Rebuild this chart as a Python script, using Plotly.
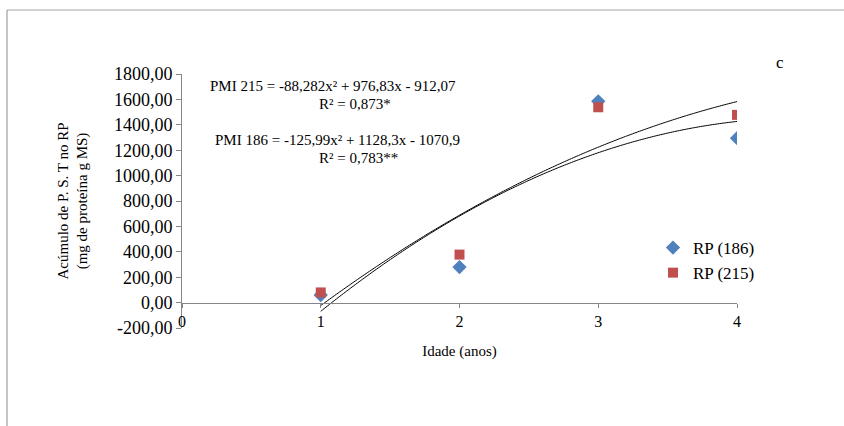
import numpy as np
import plotly.graph_objects as go

# ---- data ----
idade = [1, 2, 3, 4]
rp186 = [60, 280, 1585, 1295]
rp215 = [80, 378, 1538, 1478]

# trendline coefficients as printed on the chart (a, b, c for a*x^2 + b*x + c)
coef215 = [-88.282, 976.83, -912.07]
coef186 = [-125.99, 1128.3, -1070.9]

eq215 = "PMI 215 = -88,282x² + 976,83x - 912,07"
r215 = "R² = 0,873*"
eq186 = "PMI 186 = -125,99x² + 1128,3x - 1070,9"
r186 = "R² = 0,783**"

ytick_vals = [-200, 0, 200, 400, 600, 800, 1000, 1200, 1400, 1600, 1800]
ytick_text = ["-200,00", "0,00", "200,00", "400,00", "600,00", "800,00",
              "1000,00", "1200,00", "1400,00", "1600,00", "1800,00"]
xtick_vals = [0, 1, 2, 3, 4]
xtick_text = ["0", "1", "2", "3", "4"]

FONT = "Times New Roman"
AX = "#868686"

fig = go.Figure()

xs = np.linspace(idade[0], idade[-1], 240)
for c in (coef215, coef186):
    fig.add_trace(go.Scatter(x=xs, y=np.polyval(c, xs), mode="lines",
                             line=dict(color="black", width=1, shape="spline"),
                             showlegend=False, hoverinfo="skip"))

fig.add_trace(go.Scatter(x=idade, y=rp186, mode="markers", name="RP (186)",
                         marker=dict(symbol="diamond", size=11, color="#4F81BD")))
fig.add_trace(go.Scatter(x=idade, y=rp215, mode="markers", name="RP (215)",
                         marker=dict(symbol="square", size=10, color="#C0504D")))

W, H = 844, 426
L, R, T, B = 182, 107, 74, 98
pw, ph = W - L - R, H - T - B

def px(xp):
    return (xp - L) / pw

def py(yp):
    return (H - B - yp) / ph

fig.update_layout(
    width=W, height=H,
    margin=dict(l=L, r=R, t=T, b=B),
    paper_bgcolor="white", plot_bgcolor="white",
    font=dict(family=FONT, size=15, color="black"),
    showlegend=True,
    legend=dict(x=px(653), y=py(230), xanchor="left", yanchor="top",
                font=dict(family=FONT, size=17), bgcolor="rgba(0,0,0,0)",
                itemwidth=30),
    xaxis=dict(range=[0, 4], anchor="free", position=200 / 2000,
               tickvals=xtick_vals, ticktext=xtick_text,
               showline=True, linecolor=AX, linewidth=1,
               ticks="outside", ticklen=4, tickcolor=AX,
               showgrid=False, zeroline=False,
               tickfont=dict(family=FONT, size=16),
               title=dict(text="Idade (anos)", font=dict(family=FONT, size=15), standoff=16)),
    yaxis=dict(range=[-200, 1800], tickvals=ytick_vals, ticktext=ytick_text,
               showline=True, linecolor=AX, linewidth=1,
               ticks="outside", ticklen=5, tickcolor=AX,
               showgrid=False, zeroline=False,
               tickfont=dict(family=FONT, size=18),
               title=dict(text="Acúmulo de P. S. T no RP<br>(mg de proteína g MS)",
                          font=dict(family=FONT, size=15), standoff=22)),
)

# outer frame (left and top borders)
fig.add_shape(type="line", xref="paper", yref="paper", x0=px(7), x1=px(7),
              y0=py(10), y1=py(440), line=dict(color="#8c8c8c", width=1))
fig.add_shape(type="line", xref="paper", yref="paper", x0=px(7), x1=px(860),
              y0=py(10), y1=py(10), line=dict(color="#a6a6a6", width=1))

anns = [
    (eq215, 208, 86),
    (r215, 317, 104),
    (eq186, 213, 140),
    (r186, 317, 158),
]
for txt, xl, yc in anns:
    fig.add_annotation(text=txt, xref="paper", yref="paper", x=px(xl), y=py(yc),
                       xanchor="left", yanchor="middle", showarrow=False,
                       font=dict(family=FONT, size=15))

fig.add_annotation(text="c", xref="paper", yref="paper", x=px(780), y=py(62),
                   xanchor="center", yanchor="middle", showarrow=False,
                   font=dict(family=FONT, size=17))

fig.write_html("out.html")
